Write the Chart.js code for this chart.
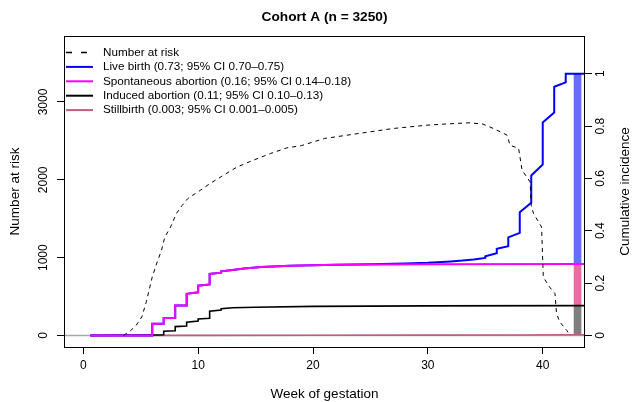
<!DOCTYPE html>
<html>
<head>
<meta charset="utf-8">
<script src="https://cdn.jsdelivr.net/npm/chart.js@4.4.0/dist/chart.umd.min.js"></script>
<style>
  html, body { margin: 0; padding: 0; background: #fff; }
  #wrap { width: 632px; height: 402px; }
</style>
</head>
<body>
<div id="wrap"><canvas id="chart" width="632" height="402"></canvas></div>
<script>
// values (week of gestation -> value)
const riskWeeks = [3.5, 4.1, 4.6, 5.1, 5.5, 6.0, 6.4, 6.8, 7.1, 7.6, 8.1, 8.6, 9.1, 10.2, 11.0, 12.0, 13.4, 14.8, 16.3, 17.7, 19.0, 21.0, 24.0, 27.0, 30.0, 32.5, 33.7, 34.8, 35.7, 36.9, 37.15, 37.9, 38.2, 38.9, 39.0, 39.2, 39.9, 40.05, 40.6, 41.07, 41.2, 41.5, 42.1, 42.2];
const riskCounts = [0, 60, 130, 240, 440, 750, 930, 1090, 1265, 1394, 1566, 1670, 1760, 1866, 1950, 2040, 2166, 2252, 2338, 2410, 2440, 2531, 2596, 2660, 2703, 2725, 2733, 2716, 2660, 2574, 2445, 2403, 2124, 1973, 1673, 1566, 1394, 750, 622, 537, 279, 171, 64, 40];

// cumulative incidence, stacked (live birth line is the total)
const liveWeeks = [0.6, 6.0, 6.0, 7.0, 7.0, 8.0, 8.0, 9.0, 9.0, 10.0, 10.0, 11.0, 11.0, 12.0, 12.0, 13.0, 14.0, 15.5, 18.0, 22.0, 25.0, 28.0, 30.0, 32.0, 33.0, 34.0, 35.0, 35.0, 36.0, 36.0, 37.0, 37.0, 38.0, 38.0, 39.0, 39.0, 40.0, 40.0, 41.0, 41.0, 42.0, 42.0, 43.6];
const liveCI = [0, 0, 0.045, 0.045, 0.067, 0.067, 0.115, 0.115, 0.159, 0.165, 0.19, 0.195, 0.235, 0.24, 0.245, 0.25, 0.256, 0.262, 0.266, 0.270, 0.272, 0.275, 0.278, 0.283, 0.286, 0.290, 0.296, 0.303, 0.314, 0.331, 0.341, 0.375, 0.392, 0.471, 0.507, 0.611, 0.653, 0.814, 0.852, 0.950, 0.967, 1.0, 1.0];

const spontWeeks = [0.6, 6.0, 6.0, 7.0, 7.0, 8.0, 8.0, 9.0, 9.0, 10.0, 10.0, 11.0, 11.0, 12.0, 12.0, 13.0, 14.0, 15.5, 18.0, 22.0, 30.0, 43.6];
const spontCI = [0, 0, 0.045, 0.045, 0.067, 0.067, 0.115, 0.115, 0.159, 0.165, 0.19, 0.195, 0.235, 0.24, 0.245, 0.25, 0.256, 0.262, 0.266, 0.270, 0.272, 0.273];

const inducedWeeks = [0.6, 6.0, 7.0, 7.0, 8.0, 8.0, 9.0, 9.0, 10.0, 10.0, 11.0, 11.0, 12.0, 12.0, 13.0, 15.0, 20.0, 30.0, 43.6];
const inducedCI = [0, 0.002, 0.003, 0.016, 0.018, 0.034, 0.036, 0.051, 0.055, 0.063, 0.066, 0.093, 0.097, 0.102, 0.106, 0.108, 0.111, 0.113, 0.114];

const stillWeeks = [0.6, 10, 20, 30, 38, 42, 43.6];
const stillCI = [0, 0.0005, 0.001, 0.0015, 0.002, 0.003, 0.003];

const baseWeeks = [-1.68, 43.68];
const baseVals = [0, 0];

// final proportions shown as a stacked bar after the last week
const barWeek = 43.03;
const inducedBand = [0.003, 0.114];
const spontBand = [0.114, 0.273];
const liveBand = [0.273, 1.0];

const xTicks = [0, 10, 20, 30, 40];
const riskTicks = [0, 1000, 2000, 3000];
const ciTicks = [0, 0.2, 0.4, 0.6, 0.8, 1];
const ciTickLabels = ['0', '0.2', '0.4', '0.6', '0.8', '1'];

const legendLabels = [
  'Number at risk',
  'Live birth (0.73; 95% CI 0.70\u20130.75)',
  'Spontaneous abortion (0.16; 95% CI 0.14\u20130.18)',
  'Induced abortion (0.11; 95% CI 0.10\u20130.13)',
  'Stillbirth (0.003; 95% CI 0.001\u20130.005)'
];
const legendColors = ['#000000', '#0000ff', '#ff00ff', '#000000', '#c45c7c'];

const FONT = '"Liberation Sans", Arial, Helvetica, sans-serif';
Chart.defaults.font.family = FONT;
Chart.defaults.color = '#000';

const pts = (xs, ys) => xs.map((x, i) => ({ x, y: ys[i] }));

const decor = {
  id: 'decor',
  afterDraw(chart) {
    const { ctx, chartArea: a } = chart;
    ctx.save();
    // plot frame
    ctx.strokeStyle = '#000';
    ctx.lineWidth = 1;
    ctx.strokeRect(a.left + 0.5, a.top + 0.5, a.right - a.left - 1, a.bottom - a.top);

    // right axis title, reads bottom to top like the left one
    ctx.font = '13.5px ' + FONT;
    ctx.fillStyle = '#000';
    ctx.textAlign = 'center';
    ctx.textBaseline = 'middle';
    ctx.translate(625, (a.top + a.bottom) / 2);
    ctx.rotate(-Math.PI / 2);
    ctx.fillText('Cumulative incidence', 0, 0);
    ctx.restore();

    // legend, no box
    ctx.save();
    ctx.font = '11.7px ' + FONT;
    ctx.textBaseline = 'middle';
    ctx.textAlign = 'left';
    legendLabels.forEach((lab, i) => {
      const y = a.top + 16.5 + i * 14.4;
      ctx.beginPath();
      ctx.strokeStyle = legendColors[i];
      ctx.lineWidth = i === 0 ? 1.6 : 2;
      ctx.setLineDash(i === 0 ? [6, 9] : []);
      ctx.lineDashOffset = 0;
      ctx.moveTo(a.left + 2, y);
      ctx.lineTo(a.left + 29, y);
      ctx.stroke();
      ctx.fillStyle = '#000';
      ctx.fillText(lab, a.left + 39, y);
    });
    ctx.restore();
  }
};

const tickGrid = { display: true, drawOnChartArea: false, drawTicks: true, tickLength: 7, color: '#000', lineWidth: 1 };

new Chart(document.getElementById('chart'), {
  type: 'line',
  data: {
    datasets: [
      { label: legendLabels[0], data: pts(riskWeeks, riskCounts), yAxisID: 'yN', borderColor: '#000', borderWidth: 1, borderDash: [4, 4], order: 1 },
      { label: legendLabels[2], data: pts(spontWeeks, spontCI), yAxisID: 'yCI', borderColor: '#ff00ff', borderWidth: 2, order: 2 },
      { label: legendLabels[1], data: pts(liveWeeks, liveCI), yAxisID: 'yCI', borderColor: '#0000ff', borderWidth: 2, order: 3 },
      { label: legendLabels[3], data: pts(inducedWeeks, inducedCI), yAxisID: 'yCI', borderColor: '#000', borderWidth: 1.6, order: 4 },
      { label: legendLabels[4], data: pts(stillWeeks, stillCI), yAxisID: 'yCI', borderColor: '#c45c7c', borderWidth: 1.6, order: 5 },
      { label: 'zero', data: pts(baseWeeks, baseVals), yAxisID: 'yCI', borderColor: '#a8a8a8', borderWidth: 1.5, order: 6 },
      { type: 'bar', label: 'induced end', data: [{ x: barWeek, y: inducedBand }], yAxisID: 'yCI', backgroundColor: '#7f7f7f', barThickness: 7, grouped: false, order: 10 },
      { type: 'bar', label: 'spont end', data: [{ x: barWeek, y: spontBand }], yAxisID: 'yCI', backgroundColor: '#ee6aa7', barThickness: 7, grouped: false, order: 11 },
      { type: 'bar', label: 'live end', data: [{ x: barWeek, y: liveBand }], yAxisID: 'yCI', backgroundColor: '#6b6bff', barThickness: 7, grouped: false, order: 12 }
    ]
  },
  options: {
    responsive: false,
    animation: false,
    devicePixelRatio: 1,
    layout: { padding: 0 },
    elements: { point: { radius: 0 }, line: { tension: 0 } },
    plugins: {
      legend: { display: false },
      tooltip: { enabled: false },
      title: {
        display: true,
        text: 'Cohort A (n = 3250)',
        fullSize: false,
        font: { size: 13.7, weight: 'bold' },
        color: '#000',
        padding: { top: 8.6, bottom: 10.96 }
      }
    },
    scales: {
      x: {
        type: 'linear',
        min: -1.68,
        max: 43.68,
        offset: false,
        grid: { ...tickGrid, offset: false },
        border: { display: false },
        afterBuildTicks: s => { s.ticks = xTicks.map(v => ({ value: v })); },
        afterFit: s => { s.height = 55; },
        ticks: { font: { size: 12 }, padding: 4, minRotation: 0, maxRotation: 0, callback: v => String(v) },
        title: { display: true, text: 'Week of gestation', font: { size: 13.5 }, padding: { top: 1, bottom: 0 } }
      },
      yN: {
        type: 'linear',
        position: 'left',
        min: -148,
        max: 3848,
        grid: tickGrid,
        border: { display: false },
        afterBuildTicks: s => { s.ticks = riskTicks.map(v => ({ value: v })); },
        afterFit: s => { s.width = 64; },
        ticks: { font: { size: 12 }, padding: 0, minRotation: 90, maxRotation: 90, crossAlign: 'center', callback: v => String(v) },
        title: { display: true, text: 'Number at risk', font: { size: 13.5 }, padding: { top: 7, bottom: 0 } }
      },
      yCI: {
        type: 'linear',
        position: 'right',
        min: -0.044,
        max: 1.144,
        grid: tickGrid,
        border: { display: false },
        afterBuildTicks: s => { s.ticks = ciTicks.map(v => ({ value: v })); },
        afterFit: s => { s.width = 47; },
        ticks: { font: { size: 12 }, padding: 0, minRotation: 90, maxRotation: 90, crossAlign: 'center',
          callback: v => ciTickLabels[ciTicks.indexOf(v)] ?? String(v) }
      }
    }
  },
  plugins: [decor]
});
</script>
</body>
</html>
